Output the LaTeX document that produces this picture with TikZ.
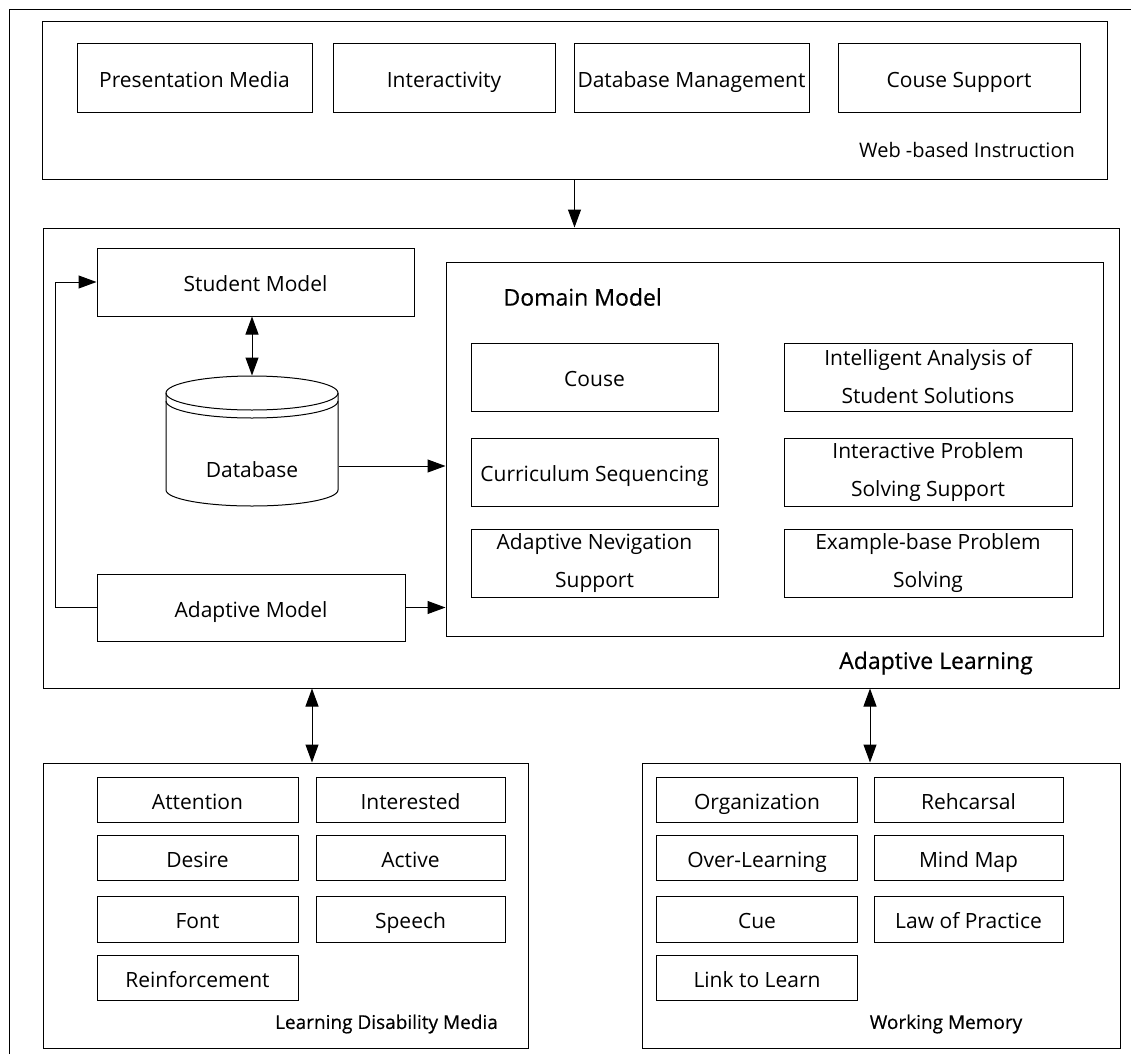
\documentclass[tikz,border=0pt]{standalone}
\usepackage{fontspec}
\setmainfont{Open Sans}
\newfontfamily\headfont[FakeBold=0.5]{Open Sans}
\usetikzlibrary{arrows.meta,calc}

\begin{document}
\begin{tikzpicture}[x=1pt,y=-1pt,
  line width=1pt,
  sz/.style 2 args={minimum width=#1pt,minimum height=#2pt},
  frame/.style={draw,inner sep=0pt},
  box/.style={draw,inner sep=0pt,align=center,font=\fontsize{21}{38}\selectfont},
  item/.style={box,text height=19pt,text depth=0pt},
  head/.style={inner sep=0pt,font=\headfont\fontsize{23}{26}\selectfont},
  subhead/.style={inner sep=0pt,font=\headfont\fontsize{19}{24}\selectfont},
  tag/.style={inner sep=0pt,font=\fontsize{20}{24}\selectfont},
  tip/.tip={Triangle[length=18pt,width=13pt]},
  arr/.style={-tip},
  darr/.style={tip-tip},
]
\useasboundingbox (0,0) rectangle (1131,1054);

% page frame
\draw (9,1054) -- (9,10) -- (1131,10);

% ---------------- Web-based instruction ----------------
\node[frame,sz={1065}{157}] (wbi) at (574.5,100.5) {};
\node[item,sz={235}{69}] (pm)  at (194.5,78.5) {Presentation Media};
\node[item,sz={222}{69}] (ia)  at (444,78.5)   {Interactivity};
\node[item,sz={235}{69}] (dbm) at (691.5,78.5) {Database Management};
\node[item,sz={242}{69}] (cs)  at (959,78.5)   {Couse Support};
\node[tag] (wbilabel) at (967,150) {Web -based Instruction};

% ---------------- Adaptive learning ----------------
\node[frame,sz={1076}{460}] (al) at (581,458) {};
\node[head] (allabel) at (936,663) {Adaptive Learning};

\node[item,sz={317}{68}] (sm) at (255.5,282) {Student Model};
\node[item,sz={308}{67}] (am) at (251,607.5) {Adaptive Model};

% database cylinder
\node[inner sep=0pt,sz={172}{130}] (db) at (252,441) {};
\draw (166,393) -- (166,490)
      arc[start angle=180,end angle=360,x radius=86pt,y radius=16pt] -- (338,393);
\draw (252,393) ellipse[x radius=86pt,y radius=17pt];
\draw (166,401) arc[start angle=180,end angle=360,x radius=86pt,y radius=17pt];
\node[inner sep=0pt,font=\fontsize{21}{24}\selectfont,text height=19pt,text depth=0pt]
  (dblabel) at (252,468) {Database};

% domain model
\node[frame,sz={657}{374}] (dom) at (774.5,449) {};
\node[head,anchor=west] (domlabel) at (503,297) {Domain Model};
\node[item,sz={247}{68}] (d1) at (594.5,377)   {Couse};
\node[item,sz={247}{68}] (d2) at (594.5,472)   {Curriculum Sequencing};
\node[box,sz={247}{68}]  (d3) at (594.5,563.5) {Adaptive Nevigation\\Support};
\node[box,sz={288}{68}]  (d4) at (928,377)     {Intelligent Analysis of\\Student Solutions};
\node[box,sz={288}{68}]  (d5) at (928,472)     {Interactive Problem\\Solving Support};
\node[box,sz={288}{68}]  (d6) at (928,563.5)   {Example-base Problem\\Solving};

% ---------------- Learning disability media ----------------
\node[frame,sz={485}{285}] (ldm) at (285.5,905.5) {};
\node[item,sz={201}{45}] (l1) at (197.5,799.5) {Attention};
\node[item,sz={189}{45}] (l2) at (410.5,799.5) {Interested};
\node[item,sz={201}{45}] (l3) at (197.5,857.5) {Desire};
\node[item,sz={189}{45}] (l4) at (410.5,857.5) {Active};
\node[item,sz={201}{46}] (l5) at (197.5,919)   {Font};
\node[item,sz={189}{46}] (l6) at (410.5,919)   {Speech};
\node[item,sz={201}{45}] (l7) at (197.5,977.5) {Reinforcement};
\node[subhead] (ldmlabel) at (386.5,1024) {Learning Disability Media};

% ---------------- Working memory ----------------
\node[frame,sz={478}{285}] (wm) at (881,905.5) {};
\node[item,sz={201}{45}] (w1) at (757,799.5)   {Organization};
\node[item,sz={189}{45}] (w2) at (968.5,799.5) {Rehcarsal};
\node[item,sz={201}{45}] (w3) at (757,857.5)   {Over-Learning};
\node[item,sz={189}{45}] (w4) at (968.5,857.5) {Mind Map};
\node[item,sz={201}{46}] (w5) at (757,919)     {Cue};
\node[item,sz={189}{46}] (w6) at (968.5,919)   {Law of Practice};
\node[item,sz={201}{45}] (w7) at (757,977.5)   {Link to Learn};
\node[subhead] (wmlabel) at (946,1024) {Working Memory};

% ---------------- connectors ----------------
\coordinate (xl) at (312,0);
\coordinate (xr) at (870,0);
\draw[arr] (wbi.south) -- (wbi.south |- al.north);
\draw[darr] (db.north |- sm.south) -- (db.north);
\draw[arr] ([yshift=-25pt]db.east) -- ([yshift=-25pt]db.east -| dom.west);
\draw[arr] (am.east) -- (am.east -| dom.west);
\draw[arr] (am.west) -- ++(-41,0) |- (sm.west);
\draw[darr] (al.south -| xl) -- (ldm.north -| xl);
\draw[darr] (al.south -| xr) -- (wm.north -| xr);
\end{tikzpicture}
\end{document}
